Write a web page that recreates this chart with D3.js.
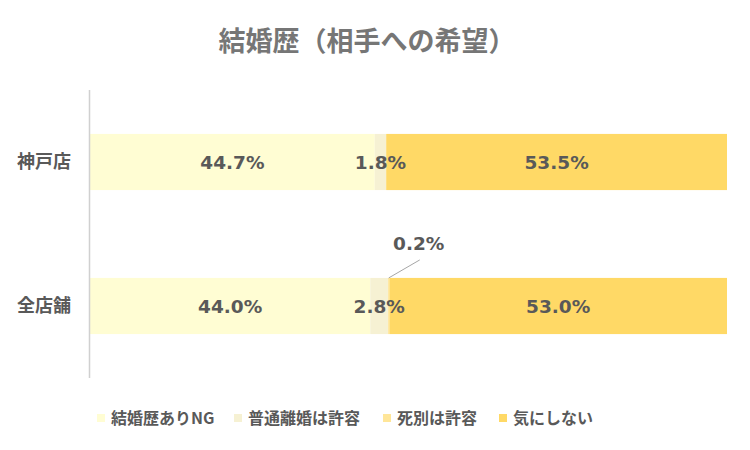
<!DOCTYPE html>
<html>
<head>
<meta charset="utf-8">
<script src="https://cdn.jsdelivr.net/npm/d3@7"></script>
<style>
  body { margin: 0; background: #fff; }
  text { font-family: "Noto Sans CJK JP", "Noto Sans", sans-serif; }
</style>
</head>
<body>
<div id="chart"></div>
<script>
const stores = ["神戸店", "全店舗"];
const seriesNames = ["結婚歴ありNG", "普通離婚は許容", "死別は許容", "気にしない"];
const ngValues = [44.7, 44.0];
const divorceValues = [1.8, 2.8];
const bereavedValues = [0, 0.2];
const dontCareValues = [53.5, 53.0];
const colors = ["#FFFDD3", "#F6F1D3", "#FFE699", "#FFD966"];

const seriesValues = [ngValues, divorceValues, bereavedValues, dontCareValues];
const rows = stores.map((s, i) => {
  const row = { store: s };
  seriesNames.forEach((n, j) => row[n] = seriesValues[j][i]);
  return row;
});

const W = 750, H = 450;
const margin = { top: 90, right: 23, bottom: 72, left: 90 };
const width = W - margin.left - margin.right;
const height = H - margin.top - margin.bottom;

const svg = d3.select("#chart").append("svg")
  .attr("width", W).attr("height", H);

svg.append("text")
  .attr("x", 367).attr("y", 51)
  .attr("text-anchor", "middle")
  .style("font-size", "27px").style("font-weight", "bold")
  .attr("fill", "#767676")
  .text("結婚歴（相手への希望）");

const g = svg.append("g").attr("transform", `translate(${margin.left},${margin.top})`);

const x = d3.scaleLinear().domain([0, 100]).range([0, width]);
const y = d3.scaleBand().domain(stores).range([0, height]).paddingInner(0.61).paddingOuter(0.305);

const stacked = d3.stack().keys(seriesNames)(rows);

g.selectAll(".layer")
  .data(stacked)
  .enter().append("g")
  .attr("fill", (d, i) => colors[i])
  .selectAll("rect")
  .data(d => d)
  .enter().append("rect")
  .attr("x", d => x(d[0]))
  .attr("y", d => y(d.data.store))
  .attr("width", d => x(d[1]) - x(d[0]))
  .attr("height", y.bandwidth());

// axis line
g.append("line")
  .attr("x1", -0.5).attr("x2", -0.5)
  .attr("y1", 0).attr("y2", height)
  .attr("stroke", "#d0d0d0").attr("stroke-width", 1.5);

// category labels
g.selectAll(".cat")
  .data(stores)
  .enter().append("text")
  .attr("x", -19)
  .attr("y", d => y(d) + y.bandwidth() / 2)
  .attr("dy", "0.35em")
  .attr("text-anchor", "end")
  .style("font-size", "18px").style("font-weight", "bold")
  .attr("fill", "#595959")
  .text(d => d);

// data labels
const labelFont = "'DejaVu Sans', Verdana, sans-serif";
const labels = [];
stacked.forEach(layer => {
  layer.forEach(d => {
    const v = d[1] - d[0];
    if (v > 0) labels.push({ store: d.data.store, v, x0: d[0], x1: d[1] });
  });
});

labels.forEach(l => {
  const cx = x((l.x0 + l.x1) / 2);
  const cy = y(l.store) + y.bandwidth() / 2;
  let tx = cx, ty = cy;
  if (l.v < 1) {
    const top = y(l.store);
    g.append("line")
      .attr("x1", cx).attr("y1", top)
      .attr("x2", cx + 31).attr("y2", top - 18)
      .attr("stroke", "#a6a6a6").attr("stroke-width", 1);
    tx = cx + 30; ty = top - 35;
  }
  g.append("text")
    .attr("x", tx).attr("y", ty)
    .attr("dy", "0.36em")
    .attr("text-anchor", "middle")
    .style("font-family", labelFont)
    .style("font-size", "18.5px").style("font-weight", "bold")
    .attr("fill", "#595959")
    .text(l.v.toFixed(1) + "%");
});

// legend
const legendX = [97, 234, 383, 499];
const legend = svg.append("g");
seriesNames.forEach((n, i) => {
  legend.append("rect")
    .attr("x", legendX[i]).attr("y", 414)
    .attr("width", 8).attr("height", 8)
    .attr("fill", colors[i]);
  legend.append("text")
    .attr("x", legendX[i] + 14).attr("y", 418)
    .attr("dy", "0.35em")
    .style("font-size", "16px").style("font-weight", "bold")
    .attr("fill", "#595959")
    .text(n);
});
</script>
</body>
</html>
